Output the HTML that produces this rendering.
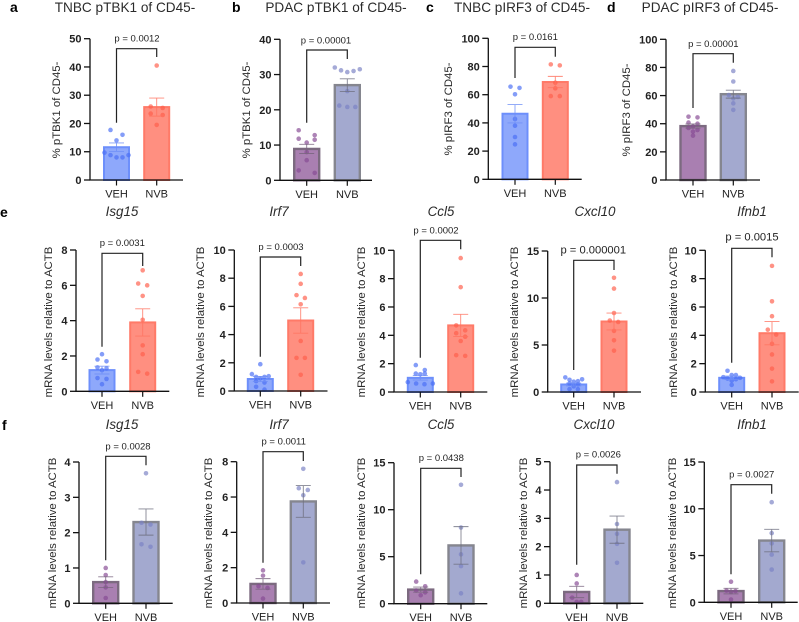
<!DOCTYPE html>
<html lang="en">
<head>
<meta charset="utf-8">
<title>pTBK1, pIRF3 and mRNA levels</title>
<style>
html,body{margin:0;padding:0;background:#fff;width:799px;height:622px;overflow:hidden}
svg{display:block}
text{font-family:"Liberation Sans",sans-serif;fill:#222}
.letter{font-size:14px;font-weight:bold;fill:#000}
.ttl{font-size:13.6px;text-anchor:middle;fill:#2b2b2b}
.gene{font-size:13.4px;font-style:italic;text-anchor:middle;fill:#2b2b2b}
.ya{font-size:11.4px;text-anchor:middle;fill:#2b2b2b}
</style>
</head>
<body>
<svg id="fig" xmlns="http://www.w3.org/2000/svg" width="799" height="622" viewBox="0 0 799 622">
  <text class="letter" x="10" y="12">a</text>
  <text class="letter" x="232" y="12">b</text>
  <text class="letter" x="426" y="12">c</text>
  <text class="letter" x="607" y="12">d</text>
  <text class="letter" x="0" y="217">e</text>
  <text class="letter" x="2" y="430">f</text>

  <text class="ttl" x="125" y="12">TNBC pTBK1 of CD45-</text>
  <text class="ttl" x="336" y="12">PDAC pTBK1 of CD45-</text>
  <text class="ttl" x="522" y="12">TNBC pIRF3 of CD45-</text>
  <text class="ttl" x="710" y="12">PDAC pIRF3 of CD45-</text>

  <text class="gene" x="122" y="216">Isg15</text>
  <text class="gene" x="279" y="216">Irf7</text>
  <text class="gene" x="441" y="216">Ccl5</text>
  <text class="gene" x="595" y="216">Cxcl10</text>
  <text class="gene" x="752" y="216">Ifnb1</text>

  <text class="gene" x="122" y="429">Isg15</text>
  <text class="gene" x="279" y="429">Irf7</text>
  <text class="gene" x="441" y="429">Ccl5</text>
  <text class="gene" x="594" y="429">Cxcl10</text>
  <text class="gene" x="752" y="429">Ifnb1</text>

  <text class="ya" transform="translate(60 110) rotate(-90)">% pTBK1 of CD45-</text>
  <text class="ya" transform="translate(250 110) rotate(-90)">% pTBK1 of CD45-</text>
  <text class="ya" transform="translate(452 109) rotate(-90)">% pIRF3 of CD45-</text>
  <text class="ya" transform="translate(630 110) rotate(-90)">% pIRF3 of CD45-</text>

  <text class="ya" transform="translate(52 322) rotate(-90)">mRNA levels relative to ACTB</text>
  <text class="ya" transform="translate(204 322) rotate(-90)">mRNA levels relative to ACTB</text>
  <text class="ya" transform="translate(365 322) rotate(-90)">mRNA levels relative to ACTB</text>
  <text class="ya" transform="translate(518 322) rotate(-90)">mRNA levels relative to ACTB</text>
  <text class="ya" transform="translate(677 322) rotate(-90)">mRNA levels relative to ACTB</text>

  <text class="ya" transform="translate(56 533) rotate(-90)">mRNA levels relative to ACTB</text>
  <text class="ya" transform="translate(212 533) rotate(-90)">mRNA levels relative to ACTB</text>
  <text class="ya" transform="translate(365 533) rotate(-90)">mRNA levels relative to ACTB</text>
  <text class="ya" transform="translate(527 533) rotate(-90)">mRNA levels relative to ACTB</text>
  <text class="ya" transform="translate(676 533) rotate(-90)">mRNA levels relative to ACTB</text>
</svg>
<script>
// ---------- chart data ----------
const panelIds = ['a','b','c','d','e-isg15','e-irf7','e-ccl5','e-cxcl10','e-ifnb1','f-isg15','f-irf7','f-ccl5','f-cxcl10','f-ifnb1'];
const categories = ['VEH','NVB'];
const yMaxValues = [50,40,100,100,8,10,10,15,10,4,8,15,5,15];
const yTickSteps = [10,10,20,20,2,2,2,5,2,1,2,5,1,5];
const vehMeans = [11.6,8.9,46.5,38.3,1.2,0.85,1.0,0.8,1.0,0.6,1.08,1.5,0.4,1.2];
const nvbMeans = [25.8,27,69,61,3.9,5,4.7,7.5,4.15,2.3,5.75,6.2,2.6,6.6];
const vehSems = [1.5,1.3,6.5,1.5,0.22,0.18,0.16,0.15,0.12,0.15,0.3,0.27,0.2,0.3];
const nvbSems = [3.2,1.8,4,2.8,0.77,0.9,0.78,0.9,0.82,0.37,0.9,2,0.48,1.2];
const pLabels = ['p = 0.0012','p = 0.00001','p = 0.0161','p = 0.00001','p = 0.0031','p = 0.0003','p = 0.0002','p = 0.000001','p = 0.0015','p = 0.0028','p = 0.0011','p = 0.0438','p = 0.0026','p = 0.0027'];

const aVeh = [17.7,16,14,9.7,8.8,8.8,8,8];
const aNvb = [40.5,26,25.5,23.5,23,19.5];
const bVeh = [14.2,12.8,11.8,11.5,10.7,8,5.7,2.8,2.1];
const bNvb = [32,31.5,31.2,31,30.7,25.3,21.2,20.8,20.8];
const cVeh = [65.7,64.8,60.3,42.8,38,30,24.8];
const cNvb = [81.5,80.8,68.5,64.5,59,59];
const dVeh = [45,44.5,40.8,40,38,37,35.5,34.4,31.5];
const dNvb = [77.5,70,60.4,59,58,54.5,49.8];
const eIsg15Veh = [2.1,1.8,1.7,1.35,1.3,1.2,0.75,0.7,0.4];
const eIsg15Nvb = [6.85,6.1,6,5.4,4.05,2.6,2.1,1.1,1];
const eIrf7Veh = [1.9,1.2,1.05,1,1,0.9,0.7,0.6,0.3,0.1];
const eIrf7Nvb = [8.3,7.6,6.8,6.6,6.15,3.55,2.35,2.35,1.15];
const eCcl5Veh = [1.9,1.55,1.3,1.3,1.25,0.7,0.6,0.6,0.55];
const eCcl5Nvb = [9.45,7.4,4.7,4.35,4.15,3.9,3.6,2.6,2.55];
const eCxcl10Veh = [1.55,1.35,1.3,1.15,1.1,0.9,0.8,0.6,0.3,0.3];
const eCxcl10Nvb = [12.15,11,8.4,7.6,7.45,6.5,5.5,4.4];
const eIfnb1Veh = [1.5,1.2,1.2,1.05,1,0.95,0.9,0.8,0.5];
const eIfnb1Nvb = [8.9,6.4,5.35,4.4,4.05,3.4,2.65,1.65,0.75];
const fIsg15Veh = [1,0.8,0.6,0.45,0.15];
const fIsg15Nvb = [3.68,2.28,2.23,1.67,1.6];
const fIrf7Veh = [1.85,1.55,0.95,0.85,0.25];
const fIrf7Nvb = [7.6,6.5,6.4,6.1,2.3];
const fCcl5Veh = [2.35,1.85,1.4,1.2,0.9];
const fCcl5Nvb = [12.65,8.1,5.25,4,1.1];
const fCxcl10Veh = [1,0.7,0.2,0.05,0.05];
const fCxcl10Nvb = [4.28,2.8,2.45,2.1,1.43];
const fIfnb1Veh = [2.2,1.25,1.2,1.1,0.3];
const fIfnb1Nvb = [10.7,7.4,6.3,5.1,3.5];

const vehPoints = [aVeh,bVeh,cVeh,dVeh,eIsg15Veh,eIrf7Veh,eCcl5Veh,eCxcl10Veh,eIfnb1Veh,fIsg15Veh,fIrf7Veh,fCcl5Veh,fCxcl10Veh,fIfnb1Veh];
const nvbPoints = [aNvb,bNvb,cNvb,dNvb,eIsg15Nvb,eIrf7Nvb,eCcl5Nvb,eCxcl10Nvb,eIfnb1Nvb,fIsg15Nvb,fIrf7Nvb,fCcl5Nvb,fCxcl10Nvb,fIfnb1Nvb];

// ---------- layout (pixels), kept apart from the data ----------
// ax: y-axis x, top: y of max tick, base: y of zero, end: x-axis end, c1/c2: bar centres,
// by/bl/br: bracket top, left foot, right foot; px/py/pf: p label centre, baseline, font size; sp: jitter spacing
const frames = [
 {ax:90,top:38.7,base:180,end:183,c1:116.5,c2:156.7,by:48.7,bl:122.7,br:57,px:137,py:41.7,pf:9.5,sp:6},
 {ax:280,top:39.3,base:180.3,end:372,c1:306.7,c2:347.3,by:50,bl:122.7,br:59,px:326,py:43.7,pf:9.5,sp:8},
 {ax:488.3,top:38.3,base:179.3,end:581.7,c1:515,c2:555.3,by:47.3,bl:78,br:56.7,px:535.3,py:40,pf:9.5,sp:4.5},
 {ax:666,top:39.3,base:180,end:760,c1:693,c2:733.3,by:53.7,bl:108,br:62.7,px:713.3,py:47,pf:9.5,sp:4.5},
 {ax:76,top:250,base:391.3,end:169.3,c1:102,c2:142.7,by:253.3,bl:346.7,br:266,px:122.3,py:246,pf:9.5,sp:4.5},
 {ax:234.3,top:250,base:391,end:327.5,c1:260.3,c2:300.7,by:257,bl:356.7,br:266,px:281,py:250,pf:9.5,sp:4.2},
 {ax:394,top:250.3,base:392,end:487.3,c1:420.3,c2:460.7,by:240.3,bl:357.7,br:249.3,px:436,py:233.7,pf:9.5,sp:4.5},
 {ax:547.7,top:251,base:392,end:641,c1:573.7,c2:614,by:260.3,bl:370,br:270,px:593.3,py:253.7,pf:11.2,sp:4.2},
 {ax:705.3,top:250.3,base:392,end:798.7,c1:731.7,c2:772,by:248.3,bl:362.7,br:257.3,px:752,py:240.7,pf:11.2,sp:4.2},
 {ax:79,top:462,base:603.3,end:172.7,c1:105.7,c2:146,by:456.3,bl:560.3,br:465.3,px:128,py:449.3,pf:9.5,sp:4.5},
 {ax:236.7,top:461.7,base:603,end:330,c1:263,c2:303.3,by:451.7,bl:562.7,br:461,px:283.7,py:444.3,pf:9.5,sp:4.5},
 {ax:394,top:462.7,base:603.7,end:487.3,c1:420.7,c2:461,by:468.3,bl:574.3,br:477,px:441.3,py:461,pf:9.5,sp:4.5},
 {ax:550,top:461.7,base:603.3,end:643.3,c1:576.7,c2:617,by:465,bl:564.7,br:473.7,px:598.3,py:457.7,pf:9.5,sp:4.5},
 {ax:704.3,top:462,base:602.3,end:797.7,c1:731,c2:771.7,by:484.7,bl:574.3,br:493.7,px:751.7,py:477.7,pf:9.5,sp:4.5}
];
const blueRed = [{fill:'#8ea8fb',stroke:'#6d8ffb',dot:'#4a6ff5',err:'#6f8ef6',sw:2},{fill:'#ff8f80',stroke:'#ff7a68',dot:'#ff5f4b',err:'#ff7360',sw:2}];
const purpleLav = [{fill:'#a97fb1',stroke:'#7c6a80',dot:'#864a93',err:'#7a6580',sw:2.4},{fill:'#a3a9cf',stroke:'#85868f',dot:'#7b82c4',err:'#6f7080',sw:2.4}];
const paletteOf = [blueRed,purpleLav,blueRed,purpleLav,blueRed,blueRed,blueRed,blueRed,blueRed,purpleLav,purpleLav,purpleLav,purpleLav,purpleLav];

const NS = 'http://www.w3.org/2000/svg';
const fig = document.getElementById('fig');
function make(tag, parent, attrs, txt){
  const el = document.createElementNS(NS, tag);
  for (const k in attrs) el.setAttribute(k, attrs[k]);
  if (txt !== undefined) el.textContent = txt;
  parent.appendChild(el);
  return el;
}
// A row of n near-equal values gets n distinct slots, evenly spread around the bar centre.
function rowSlots(n, d){
  const slots = [];
  for (let k = 0; k < n; k++) slots.push(n % 2 ? (k - (n - 1) / 2) * d : (2 * k - (n - 1)) * d);
  const widest = Math.abs(slots[0]);
  const scale = widest > 12.5 ? 12.5 / widest : 1;
  return slots.map(s => s * scale);
}
function swarm(values, yOf, spacing){
  const offs = new Array(values.length).fill(0);
  let i = 0;
  while (i < values.length) {
    let j = i;
    while (j + 1 < values.length && Math.abs(yOf(values[j + 1]) - yOf(values[i])) < 5) j++;
    const n = j - i + 1;
    const slots = rowSlots(n, spacing);
    for (let k = 0; k < n; k++) {
      const slot = k % 2 ? n - 1 - (k - 1) / 2 : k / 2;
      offs[i + k] = slots[slot];
    }
    i = j + 1;
  }
  return offs;
}
panelIds.forEach((id, i) => {
  const f = frames[i];
  const yMax = yMaxValues[i];
  const yOf = v => f.base - (v / yMax) * (f.base - f.top);
  const g = make('g', fig, {});
  
  
  const centers = [f.c1, f.c2];
  const means = [vehMeans[i], nvbMeans[i]];
  const sems = [vehSems[i], nvbSems[i]];
  const points = [vehPoints[i], nvbPoints[i]];
  const pal = paletteOf[i];

  categories.forEach((cat, s) => {
    const c = centers[s], st = pal[s], lower = cat.toLowerCase();
    const bar = make('rect', g, {x:c-12.5, y:yOf(means[s]), width:25, height:f.base-yOf(means[s]), fill:st.fill, stroke:st.stroke, 'stroke-width':st.sw});
    
    
    const offs = swarm(points[s], yOf, f.sp);
    points[s].forEach((v, k) => {
      const dot = make('circle', g, {cx:c+offs[k], cy:yOf(v), r:2.3, fill:st.dot, 'fill-opacity':0.68});
      
      
    });
    const hi = yOf(means[s]+sems[s]), lo = yOf(means[s]-sems[s]);
    const err = make('path', g, {d:'M'+(c-7.5)+' '+hi+'H'+(c+7.5)+'M'+c+' '+hi+'V'+lo+'M'+(c-7.5)+' '+lo+'H'+(c+7.5), fill:'none', stroke:st.err, 'stroke-width':0.9, 'stroke-opacity':0.85});
    
    
    const tick = make('line', g, {x1:c, x2:c, y1:f.base, y2:f.base+5.5, stroke:'#111', 'stroke-width':1.2});
    
    
    const lab = make('text', g, {x:c, y:f.base+17.5, 'text-anchor':'middle', 'font-size':11, fill:'#222'}, cat);
    
    
  });

  const axes = make('path', g, {d:'M'+f.ax+' '+f.top+'V'+f.base+'H'+f.end, fill:'none', stroke:'#111', 'stroke-width':1.3});
  
  

  for (let v = 0; v <= yMax + 1e-9; v += yTickSteps[i]) {
    const tk = make('line', g, {x1:f.ax-6, x2:f.ax, y1:yOf(v), y2:yOf(v), stroke:'#111', 'stroke-width':1.3});
    
    
    const tl = make('text', g, {x:f.ax-8.5, y:yOf(v)+4, 'text-anchor':'end', 'font-size':11, 'font-weight':'bold', fill:'#111'}, String(v));
    
    
  }

  const br = make('path', g, {d:'M'+f.c1+' '+f.bl+'V'+f.by+'H'+f.c2+'V'+f.br, fill:'none', stroke:'#222', 'stroke-width':1.2});
  
  
  const pt = make('text', g, {x:f.px, y:f.py, 'text-anchor':'middle', 'font-size':f.pf, fill:'#333'}, pLabels[i]);
  
  
});
</script>
</body>
</html>
